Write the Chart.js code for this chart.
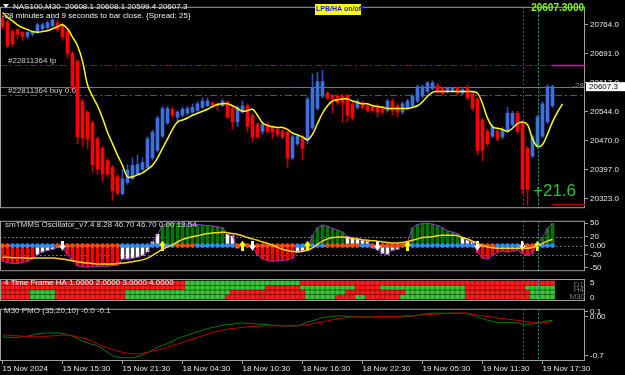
<!DOCTYPE html>
<html>
<head>
<meta charset="utf-8">
<script src="https://cdn.jsdelivr.net/npm/chart.js@4.4.1/dist/chart.umd.min.js"></script>
<style>
html,body{margin:0;padding:0;background:#000;}
#wrap{position:relative;width:625px;height:375px;background:#000;overflow:hidden;}
canvas{position:absolute;left:0;}
</style>
</head>
<body>
<div id="wrap">
<canvas id="mainChart" width="625" height="215" style="top:0px"></canvas>
<canvas id="oscChart" width="625" height="64" style="top:214px"></canvas>
<canvas id="haChart" width="625" height="24" style="top:278px"></canvas>
<canvas id="pmoChart" width="625" height="73" style="top:302px"></canvas>
</div>
<script>
// ---- data (NAS100 M30) ----
const timeLabels=['15 Nov 2024','15 Nov 15:30','15 Nov 21:30','18 Nov 04:30','18 Nov 10:30','18 Nov 16:30','18 Nov 22:30','19 Nov 05:30','19 Nov 11:30','19 Nov 17:30'];
const barsPerTimeLabel=12;
const slotCount=117;

const opens=[20781,20771,20747,20752,20745,20735,20740,20745,20754,20757,
20761,20769,20764,20747,20692,20672,20571,20543,20516,20475,
20451,20420,20403,20379,20336,20365,20374,20386,20398,20403,
20427,20446,20482,20516,20550,20530,20535,20540,20543,20547,
20555,20559,20567,20564,20559,20569,20552,20518,20543,20559,
20535,20511,20494,20511,20504,20499,20494,20492,20427,20463,
20480,20470,20504,20552,20583,20591,20583,20583,20583,20583,
20564,20555,20567,20559,20555,20559,20552,20547,20571,20559,
20543,20555,20559,20571,20583,20595,20603,20610,20603,20595,
20595,20603,20591,20603,20591,20576,20523,20494,20482,20494,
20480,20494,20511,20540,20516,20451,20432,20456,20482,20518,
20559];
const closes=[20759,20711,20716,20740,20735,20745,20745,20764,20764,20769,
20776,20752,20733,20692,20603,20480,20478,20475,20410,20398,
20386,20386,20343,20338,20374,20396,20408,20410,20415,20475,
20492,20528,20552,20552,20535,20543,20550,20552,20555,20564,
20571,20571,20562,20559,20571,20530,20518,20555,20559,20506,
20480,20480,20511,20494,20492,20487,20480,20427,20480,20482,
20451,20576,20603,20620,20620,20579,20576,20567,20567,20535,
20528,20571,20555,20547,20547,20543,20543,20571,20547,20543,
20564,20571,20583,20607,20607,20617,20617,20595,20591,20603,
20603,20591,20600,20579,20552,20446,20446,20463,20506,20475,
20499,20540,20540,20494,20348,20348,20480,20530,20564,20607,
20607.3];
const highs=[20788,20776,20752,20754,20747,20747,20747,20769,20769,20774,
20783,20776,20769,20752,20697,20675,20576,20547,20521,20480,
20456,20425,20408,20384,20398,20410,20427,20434,20427,20480,
20497,20533,20557,20557,20555,20547,20555,20557,20564,20569,
20579,20579,20569,20567,20576,20571,20557,20559,20571,20564,
20540,20516,20516,20516,20509,20504,20499,20494,20485,20487,
20485,20581,20639,20644,20648,20595,20588,20588,20588,20588,
20569,20576,20571,20564,20559,20564,20557,20576,20576,20564,
20569,20576,20588,20612,20612,20620,20622,20615,20607,20607,
20607,20607,20605,20612,20595,20581,20528,20499,20511,20504,
20504,20555,20545,20545,20521,20456,20485,20535,20569,20612,
20612];
const lows=[20754,20706,20709,20728,20725,20728,20735,20742,20749,20752,
20759,20747,20725,20680,20595,20463,20456,20451,20391,20386,
20367,20379,20319,20333,20333,20360,20372,20384,20396,20398,
20422,20442,20478,20511,20528,20516,20530,20535,20540,20545,
20552,20557,20559,20547,20557,20528,20499,20506,20540,20492,
20468,20475,20487,20490,20475,20480,20475,20403,20422,20458,
20422,20463,20499,20547,20579,20574,20540,20562,20518,20518,
20523,20550,20550,20543,20543,20530,20538,20543,20535,20530,
20538,20550,20555,20567,20579,20591,20600,20591,20586,20591,
20593,20586,20586,20574,20547,20434,20420,20456,20478,20470,
20475,20490,20506,20490,20336,20307,20427,20451,20478,20514,
20555];
const maLine=[20795,20783,20774,20764,20757,20752,20747,20745,20747,20749,
20754,20759,20764,20754,20733,20711,20672,20612,20583,20559,
20528,20492,20463,20434,20408,20379,20379,20384,20389,20398,
20408,20427,20451,20475,20499,20518,20523,20528,20535,20540,
20545,20550,20557,20562,20564,20564,20559,20552,20545,20547,
20550,20535,20516,20509,20506,20504,20504,20499,20490,20485,
20480,20473,20487,20514,20540,20559,20571,20574,20576,20576,
20571,20567,20564,20564,20559,20557,20555,20552,20552,20552,
20552,20552,20555,20559,20569,20583,20593,20595,20595,20595,
20595,20595,20595,20595,20595,20591,20564,20528,20506,20502,
20499,20494,20502,20514,20518,20511,20475,20456,20461,20487,
20518,20543,20564];
const priceTicks=[20764,20691,20617,20544,20470,20397,20323];
const tpPrice=20663, buyPrice=20586, bidPrice=20607.3, slPrice=20309;

const oscHist=[-35,-38,-40,-40,-38,-35,-30,-20,-14,-11,
-8,-4,-2,-20,-35,-45,-48,-48,-47,-47,
-46,-46,-45,-44,-30,-30,-28,-26,-22,-14,
8,25,45,50,50,50,49,48,48,47,
46,45,44,42,40,25,22,-5,5,3,
-5,-20,-30,-34,-35,-34,-33,-32,-28,-14,
-12,-8,23,40,46,43,38,35,30,20,
18,15,12,10,-5,-8,-18,-20,-10,-8,
3,8,40,47,50,50,48,45,40,33,
30,27,18,12,8,-15,-28,-30,-22,-15,
-12,-14,-12,-10,-18,-22,-18,5,18,38,
50];
const oscSignal=[-26,-26,-27,-27,-27,-28,-28,-28,-28,-28,
-28,-29,-30,-32,-34,-36,-38,-39,-40,-41,
-41,-41,-41,-40,-39,-38,-36,-34,-32,-28,
-22,-15,-8,-3,2,8,14,17,20,22,
25,27,28,29,30,29,27,25,22,18,
15,12,8,5,1,-4,-8,-11,-13,-14,
-13,-10,-5,3,10,15,18,19,19,18,
16,15,13,12,11,10,8,7,6,6,
7,9,12,15,18,19,20,22,23,23,
23,22,18,15,10,5,0,-3,-5,-6,
-6,-6,-6,-6,-6,-6,-4,-1,5,10,
14];
const oscRuns=[['r',7],['w',6],['r',11],['w',8],['g',13],['w',6],['r',8],['w',3],['g',7],['w',13],['g',10],['w',3],['r',12],['w',1],['g',3]];
const dotRuns=[['o',2],['b',9],['o',13],['b',11],['o',4],['b',8],['o',12],['b',6],['o',7],['b',2],['o',7],['b',14],['o',4],['b',5],['o',3],['b',4]];
const downArrowBars=[12,50,75,95,104];
const upArrowBars=[32,48,61,81,107];
const oscTicks=[50,20,0,-20,-50];

const haD1Runs=[['r',37],['g',23],['r',51]];
const haH4Runs=[['r',37],['g',16],['r',7],['g',11],['r',5],['g',17],['r',12],['g',6]];
const haH1Runs=[['r',6],['g',5],['r',14],['g',21],['r',15],['g',8],['r',12],['g',12],['r',13],['g',5]];
const haM30Runs=[['r',6],['g',5],['r',14],['g',20],['r',16],['g',6],['r',4],['g',2],['r',7],['g',13],['r',13],['g',5]];

const pmoGreen=[-0.36,-0.37,-0.37,-0.37,-0.36,-0.35,-0.33,-0.31,-0.30,-0.29,
-0.29,-0.29,-0.30,-0.32,-0.35,-0.39,-0.44,-0.47,-0.50,-0.52,
-0.58,-0.64,-0.70,-0.73,-0.74,-0.74,-0.74,-0.72,-0.69,-0.65,
-0.60,-0.55,-0.52,-0.48,-0.44,-0.39,-0.36,-0.33,-0.30,-0.27,
-0.24,-0.21,-0.19,-0.17,-0.15,-0.14,-0.13,-0.11,-0.11,-0.12,
-0.12,-0.13,-0.13,-0.14,-0.15,-0.15,-0.16,-0.16,-0.16,-0.16,
-0.13,-0.09,-0.07,-0.04,-0.01,0.00,0.01,0.02,0.02,0.01,
0.01,0.00,0.00,0.00,0.00,0.00,0.00,0.00,0.00,0.00,
0.00,0.01,0.02,0.03,0.05,0.06,0.07,0.07,0.07,0.07,
0.07,0.07,0.07,0.06,0.03,0.00,-0.03,-0.06,-0.08,-0.10,
-0.10,-0.10,-0.10,-0.11,-0.13,-0.13,-0.13,-0.11,-0.09,-0.07,
-0.06];
const pmoRed=[-0.33,-0.33,-0.34,-0.34,-0.35,-0.35,-0.36,-0.36,-0.35,-0.35,
-0.34,-0.34,-0.33,-0.33,-0.34,-0.36,-0.38,-0.40,-0.45,-0.49,
-0.53,-0.56,-0.59,-0.62,-0.64,-0.66,-0.67,-0.67,-0.66,-0.64,
-0.62,-0.60,-0.58,-0.55,-0.52,-0.49,-0.46,-0.43,-0.40,-0.37,
-0.34,-0.31,-0.28,-0.26,-0.24,-0.22,-0.21,-0.20,-0.19,-0.18,
-0.17,-0.17,-0.16,-0.16,-0.16,-0.16,-0.16,-0.16,-0.16,-0.16,
-0.15,-0.14,-0.12,-0.10,-0.09,-0.07,-0.05,-0.03,-0.02,-0.01,
0.00,0.00,0.00,0.00,0.00,0.01,0.01,0.01,0.01,0.01,
0.02,0.02,0.02,0.03,0.04,0.04,0.05,0.05,0.06,0.06,
0.07,0.07,0.07,0.07,0.05,0.03,0.02,0.01,0.00,-0.02,
-0.03,-0.04,-0.05,-0.06,-0.07,-0.09,-0.10,-0.11,-0.11,-0.10,
-0.08];
const pmoTicks=[0.1,0,-0.7];

const markerBars=[{index:104,color:'#c800c8'},{index:107,color:'#00a8a8'}];

// ---- styling ----
Chart.defaults.font.family='"Liberation Sans", Arial, sans-serif';
Chart.defaults.font.size=8;
Chart.defaults.animation=false;
const frameColor='#a0a0a0';
const axisText='#e6e6e6';
const bullColor='#4070e0', bearColor='#ff0000';
const expand=runs=>runs.flatMap(([c,n])=>Array(n).fill(c));

const labels=Array.from({length:slotCount},(_,i)=>(i%barsPerTimeLabel===0&&timeLabels[i/barsPerTimeLabel])?timeLabels[i/barsPerTimeLabel]:'');

const xScale=show=>({
  type:'category',offset:true,display:show,
  grid:{offset:false,drawOnChartArea:false,drawTicks:show,tickLength:3,color:frameColor},
  border:{display:false},
  ticks:{display:show,autoSkip:false,maxRotation:0,minRotation:0,align:'start',padding:0,color:axisText},
  afterBuildTicks(s){s.ticks=s.ticks.filter(t=>labels[t.value]!=='');},
  afterFit(s){if(show)s.height=14;}
});
const rightAxis=(min,max,ticks,fmt)=>({
  position:'right',min,max,
  afterFit(s){s.width=40;},
  afterBuildTicks(s){s.ticks=ticks.map(v=>({value:v}));},
  grid:{drawOnChartArea:false,drawTicks:true,tickLength:3,color:frameColor},
  border:{display:false},
  ticks:{color:axisText,padding:2,callback:fmt}
});
const baseOptions=(pad,scales)=>({
  responsive:false,devicePixelRatio:1,animation:false,
  layout:{padding:pad,autoPadding:false},
  plugins:{legend:{display:false},tooltip:{enabled:false}},
  scales
});

const framePlugin={id:'frame',afterDraw(chart){
  const {ctx,chartArea:a}=chart;
  ctx.save();ctx.strokeStyle=frameColor;ctx.lineWidth=1;
  ctx.strokeRect(a.left+0.5,a.top+0.5,a.right-a.left-1,a.bottom-a.top-1);
  ctx.restore();
}};
const markerPlugin={id:'markers',afterDatasetsDraw(chart){
  const {ctx,chartArea:a}=chart;const x=chart.scales.x;
  ctx.save();ctx.lineWidth=1;ctx.setLineDash([2,2]);
  markerBars.forEach(m=>{
    const px=Math.round(x.getPixelForValue(m.index))+0.5;
    ctx.strokeStyle=m.color;ctx.beginPath();ctx.moveTo(px,a.top);ctx.lineTo(px,a.bottom);ctx.stroke();
  });
  ctx.restore();
}};
const hlines=lines=>({id:'hlines',beforeDatasetsDraw(chart){
  const {ctx,chartArea:a}=chart;const y=chart.scales.y;
  ctx.save();ctx.lineWidth=1;
  lines.forEach(l=>{
    const py=Math.round(y.getPixelForValue(l.value))+0.5;
    ctx.strokeStyle=l.color;ctx.setLineDash(l.dash||[]);
    ctx.beginPath();ctx.moveTo(a.left,py);ctx.lineTo(a.right,py);ctx.stroke();
  });
  ctx.restore();
}});
const textPlugin=draw=>({id:'texts',afterDraw(chart){const ctx=chart.ctx;ctx.save();ctx.textBaseline='middle';draw(chart,ctx);ctx.restore();}});

// ---- main price panel ----
const mainTexts=textPlugin((chart,ctx)=>{
  const y=chart.scales.y;
  ctx.fillStyle='#ececec';ctx.font='8px "Liberation Sans"';
  ctx.beginPath();ctx.moveTo(3,4);ctx.lineTo(9,4);ctx.lineTo(6,8);ctx.closePath();ctx.fill();
  ctx.fillText('NAS100,M30  20608.1 20608.1 20599.4 20607.3',13,7);
  ctx.fillText('-28 minutes and 9 seconds to bar close. {Spread: 25}',2,16);
  ctx.fillStyle='#c8c8c8';
  ctx.fillText('#22811364 tp',8,y.getPixelForValue(tpPrice)-4);
  ctx.fillText('#22811364 buy 0.0',8,y.getPixelForValue(buyPrice)-4);
  // LPB/HA button
  ctx.fillStyle='#ffff00';ctx.fillRect(315,4,46,11);
  ctx.fillStyle='#1a1aff';ctx.font='bold 7px "Liberation Sans"';ctx.fillText('LPB/HA on/off',316,9.5);
  // price readout
  ctx.fillStyle='#7cfc00';ctx.font='bold 10px "Liberation Sans"';ctx.textAlign='right';
  ctx.fillText('20607.3000',584,8);
  // profit
  ctx.textAlign='left';ctx.fillStyle='#2fc02f';ctx.font='17px "Liberation Sans"';
  ctx.fillText('+21.6',533,191);
  // short order markers on the right
  const tpY=Math.round(y.getPixelForValue(tpPrice))+0.5, slY=Math.round(y.getPixelForValue(slPrice))+0.5;
  ctx.lineWidth=1.5;ctx.strokeStyle='#ff00cc';ctx.beginPath();ctx.moveTo(552,tpY);ctx.lineTo(585,tpY);ctx.stroke();
  ctx.strokeStyle='#b00000';ctx.beginPath();ctx.moveTo(552,slY);ctx.lineTo(585,slY);ctx.stroke();
  // bid label on axis
  const by=y.getPixelForValue(bidPrice);
  ctx.fillStyle='#ffffff';ctx.fillRect(586,by-4.5,39,9);
  ctx.fillStyle='#000000';ctx.font='8px "Liberation Sans"';ctx.fillText(bidPrice.toFixed(1),589,by);
  ctx.fillStyle='#8a8a8a';ctx.textAlign='right';ctx.fillText('-28',584,by-1);
});

new Chart(document.getElementById('mainChart'),{
  type:'bar',
  data:{labels,datasets:[
    {type:'line',data:maLine,borderColor:'#ffff00',borderWidth:1.5,pointRadius:0,tension:0.4,order:0},
    {data:opens.map((o,i)=>[o,closes[i]]),backgroundColor:opens.map((o,i)=>closes[i]>=o?bullColor:bearColor),barThickness:3,minBarLength:1,grouped:false,order:1},
    {data:lows.map((l,i)=>[l,highs[i]]),backgroundColor:opens.map((o,i)=>closes[i]>=o?'#3050c0':'#c00000'),barThickness:1,grouped:false,order:2}
  ]},
  options:baseOptions({top:1,bottom:2,left:0,right:0},{
    x:xScale(false),
    y:rightAxis(20299.5,20809.6,priceTicks,v=>v.toFixed(1))
  }),
  plugins:[hlines([
    {value:tpPrice,color:'#b00000',dash:[7,3,2,3]},
    {value:bidPrice,color:'#777777'},
    {value:buyPrice,color:'#1b7a1b',dash:[7,3,2,3]}
  ]),framePlugin,markerPlugin,mainTexts]
});

// ---- oscillator panel ----
const makeArrow=(color,down)=>{
  const c=document.createElement('canvas');c.width=7;c.height=10;
  const g=c.getContext('2d');g.fillStyle=color;
  if(down){g.fillRect(2,0,3,5);g.beginPath();g.moveTo(0,5);g.lineTo(7,5);g.lineTo(3.5,10);g.fill();}
  else{g.beginPath();g.moveTo(3.5,0);g.lineTo(7,5);g.lineTo(0,5);g.fill();g.fillRect(2,5,3,5);}
  return c;
};
const oscState=expand(oscRuns);
const dotState=expand(dotRuns);
const oscColors={r:'#ff0000',w:'#ffffff',g:'#007800'};
const oscTexts=textPlugin((chart,ctx)=>{
  ctx.fillStyle='#d8d8d8';ctx.font='8px "Liberation Sans"';
  ctx.fillText('smTMMS Oscillator_v7.4 8.28 46.70 46.70 0.00 13.54',5,11);
});
new Chart(document.getElementById('oscChart'),{
  type:'bar',
  data:{labels,datasets:[
    {type:'line',data:oscSignal,borderColor:'#ffd21a',borderWidth:1.5,pointRadius:0,tension:0.4,order:0},
    {type:'line',data:labels.map((_,i)=>downArrowBars.includes(i)?0:null),showLine:false,pointStyle:makeArrow('#ffffff',true),pointRadius:5,order:1},
    {type:'line',data:labels.map((_,i)=>upArrowBars.includes(i)?0:null),showLine:false,pointStyle:makeArrow('#ffff00',false),pointRadius:5,order:1},
    {type:'line',data:dotState.map(()=>0),showLine:false,pointRadius:2.4,pointBorderWidth:0,pointBackgroundColor:dotState.map(c=>c==='o'?'#ff4a10':'#2a90ff'),order:2},
    {type:'line',data:oscHist,borderColor:'#9a2fd0',borderWidth:1,pointRadius:0,tension:0,order:3},
    {data:oscHist,backgroundColor:oscState.map(c=>oscColors[c]),barThickness:3,grouped:false,order:4}
  ]},
  options:baseOptions({top:1,bottom:1,left:0,right:0},{
    x:xScale(false),
    y:rightAxis(-57.3,55.5,oscTicks,v=>v===0?'0.00':String(v))
  }),
  plugins:[hlines([
    {value:20,color:'#6a6a6a',dash:[2,2]},
    {value:0,color:'#6a6a6a',dash:[2,2]},
    {value:-20,color:'#6a6a6a',dash:[2,2]}
  ]),framePlugin,markerPlugin,oscTexts]
});

// ---- 4 time frame HA panel ----
const haRows=[haM30Runs,haH1Runs,haH4Runs,haD1Runs].map(expand);
const haColors={r:'#ff1a1a',g:'#36c836'};
const haTexts=textPlugin((chart,ctx)=>{
  ctx.font='8px "Liberation Sans"';ctx.fillStyle='#f0f0f0';
  ctx.fillText('4 Time Frame HA 1.0000 2.0000 3.0000 4.0000',4,5);
  ctx.fillStyle='#e6e6e6';ctx.fillText('5',590,5);ctx.fillText('0',590,20);
  ctx.fillStyle='#7a7a7a';ctx.textAlign='right';
  ctx.fillText('D1',584,7);ctx.fillText('H4',584,12);ctx.fillText('M30',585,19);
});
new Chart(document.getElementById('haChart'),{
  type:'bar',
  data:{labels,datasets:haRows.map((row,r)=>({
    data:row.map(()=>[r+0.12,r+0.88]),
    backgroundColor:row.map(c=>haColors[c]),
    barThickness:4,grouped:false
  }))},
  options:baseOptions({top:1,bottom:1,left:0,right:0},{
    x:xScale(false),
    y:rightAxis(-0.3,4.3,[],v=>'')
  }),
  plugins:[framePlugin,markerPlugin,haTexts]
});

// ---- PMO panel ----
const pmoTexts=textPlugin((chart,ctx)=>{
  ctx.fillStyle='#d8d8d8';ctx.font='8px "Liberation Sans"';
  ctx.fillText('M30 PMO (35,20,10) -0.0 -0.1',4,9);
});
new Chart(document.getElementById('pmoChart'),{
  type:'line',
  data:{labels,datasets:[
    {data:pmoRed,borderColor:'#c00000',borderWidth:1,pointRadius:0,tension:0.3},
    {data:pmoGreen,borderColor:'#087a08',borderWidth:1,pointRadius:0,tension:0.3}
  ]},
  options:baseOptions({top:1,bottom:0,left:0,right:0},{
    x:xScale(true),
    y:rightAxis(-0.80,0.149,pmoTicks,v=>v===0?'0.00':String(v))
  }),
  plugins:[framePlugin,markerPlugin,pmoTexts]
});
</script>
</body>
</html>
